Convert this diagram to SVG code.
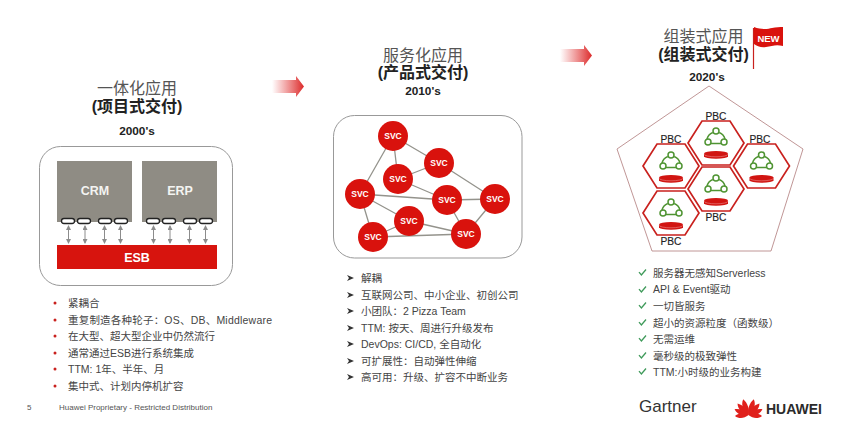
<svg xmlns="http://www.w3.org/2000/svg" xmlns:xlink="http://www.w3.org/1999/xlink" width="844" height="444" viewBox="0 0 844 444">
<style>
text{font-family:"Liberation Sans","Noto Sans CJK SC",sans-serif}
.t1{font-size:16px;fill:#555;text-anchor:middle}
.t2{font-size:16px;font-weight:700;fill:#222;text-anchor:middle}
.yr{font-size:11.8px;font-weight:700;fill:#222;text-anchor:middle}
.li{font-size:10.5px;fill:#444}
.panel{fill:#fff;stroke:#999;stroke-width:1}
.sys{fill:#8f8c84}
.sysT{font-size:12.5px;font-weight:700;fill:#f4f4f2;text-anchor:middle}
.pill{fill:#fff;stroke:#222;stroke-width:1.3}
.link{stroke:#8c8c8c;stroke-width:1;fill:none;marker-start:url(#ah);marker-end:url(#ah)}
.edge{stroke:#94938c;stroke-width:1.3;fill:none}
.svc{fill:#d9120d}
.svcT{font-size:8.5px;font-weight:700;fill:#fff;text-anchor:middle}
.hex{fill:#fff;stroke:#c9211e;stroke-width:1.7}
.pbc{font-size:10.2px;fill:#222;text-anchor:middle;font-weight:400;stroke:#222;stroke-width:.15}
.green{fill:none;stroke:#4f9432;stroke-width:1.5}
.bul{fill:#c9211e}
.chk{fill:none;stroke:#3f9a5a;stroke-width:1.3}
.arw{fill:#333}
</style>
<defs>
<marker id="ah" markerWidth="5" markerHeight="5" refX="4" refY="2.5" orient="auto-start-reverse" markerUnits="userSpaceOnUse"><path d="M0 0L5 2.5L0 5z" fill="#8c8c8c"/></marker>
<linearGradient id="ag" x1="0" x2="1" y1="0" y2="0"><stop offset="0" stop-color="#e2393a" stop-opacity="0"/><stop offset="1" stop-color="#dc2a2a"/></linearGradient>
<g id="pb">
<circle class="green" cx="0" cy="-10" r="3"/><circle class="green" cx="-8" cy="1" r="3"/><circle class="green" cx="8" cy="1" r="3"/>
<path class="green" d="M-3.200 -8.500A9.500 9.500 0 0 0 -9 -2M3.200 -8.500A9.500 9.500 0 0 1 9 -2M-5 2.600H5"/>
<path d="M-12 12.500A12 2.600 0 0 1 12 12.500V15.200A12 2.600 0 0 1 -12 15.200z" fill="#d11512"/>
<path d="M-12 13.200A12 2.600 0 0 0 12 13.200" fill="none" stroke="#f0a0a0" stroke-width=".5"/>
</g>
<polygon id="hx" class="hex" points="-28,0 -14,-22 14,-22 28,0 14,22 -14,22"/>
<path id="pe" d="M0 0C-4.500 -5 -4.500 -11 -1.500 -15C1.500 -11 2.500 -5 0 0z" fill="#e0201c"/>
<path id="ck" class="chk" d="M0 3.200L2.400 6L7 0.500"/>
<path id="ar" class="arw" d="M0 0L7 3L0 6L2 3z"/>
<circle id="bu" class="bul" r="1.500"/>
</defs>
<rect width="844" height="444" fill="#fff"/>

<g id="heading-1">
<text class="t1" x="137" y="94">一体化应用</text>
<text class="t2" x="137" y="112">(项目式交付)</text>
<text class="yr" x="137" y="135">2000's</text>
</g>
<g id="heading-2">
<text class="t1" x="423" y="61">服务化应用</text>
<text class="t2" x="423" y="78">(产品式交付)</text>
<text class="yr" x="423" y="95">2010's</text>
</g>
<g id="heading-3">
<text class="t1" x="703.500" y="42">组装式应用</text>
<text class="t2" x="703.500" y="60">(组装式交付)</text>
<text class="yr" x="707" y="81">2020's</text>
</g>

<g id="arrow-1"><path d="M272 80H296V76L304 86.500L296 97V93H272z" fill="url(#ag)"/></g>
<g id="arrow-2"><path d="M560 49H584V45L592 55.500L584 66V62H560z" fill="url(#ag)"/></g>

<g id="flag">
<path d="M753.500 28V69" stroke="#c9211e" stroke-width="1.200"/>
<path d="M754 27C762 30 768 29 772 28C776 27 780 27 783 27V46C776 44 772 46 766 47C761 48 757 46 754 44z" fill="#d9120d"/>
<text x="768.500" y="41.500" font-size="9.500" font-weight="700" fill="#fff" text-anchor="middle">NEW</text>
</g>

<rect class="panel" x="39.500" y="146.500" width="193" height="139" rx="21"/>
<g id="crm"><rect class="sys" x="57" y="161" width="75" height="61"/><text class="sysT" x="95" y="195">CRM</text></g>
<g id="erp"><rect class="sys" x="142" y="161" width="75" height="61"/><text class="sysT" x="180" y="195">ERP</text></g>
<g id="esb"><rect x="57" y="245" width="160" height="24" fill="#d7140e"/><text x="137" y="262" font-size="12.500" font-weight="700" fill="#fff" text-anchor="middle">ESB</text></g>
<g id="ports">
<rect class="pill" x="61.500" y="218.500" width="13" height="5" rx="2.500"/><rect class="pill" x="77.500" y="218.500" width="13" height="5" rx="2.500"/><rect class="pill" x="98.500" y="218.500" width="13" height="5" rx="2.500"/><rect class="pill" x="114.500" y="218.500" width="13" height="5" rx="2.500"/>
<rect class="pill" x="146.500" y="218.500" width="13" height="5" rx="2.500"/><rect class="pill" x="162.500" y="218.500" width="13" height="5" rx="2.500"/><rect class="pill" x="183.500" y="218.500" width="13" height="5" rx="2.500"/><rect class="pill" x="199.500" y="218.500" width="13" height="5" rx="2.500"/>
</g>
<g id="esb-links">
<path class="link" d="M68.500 226V243"/><path class="link" d="M85 226V243"/><path class="link" d="M104.500 226V243"/><path class="link" d="M120.500 226V243"/>
<path class="link" d="M153.500 226V243"/><path class="link" d="M170 226V243"/><path class="link" d="M189.500 226V243"/><path class="link" d="M205.500 226V243"/>
</g>

<rect class="panel" x="333.500" y="115.500" width="188.500" height="142.500" rx="21"/>
<g id="connectors">
<path class="edge" d="M393 136L360 194M393 136L398 179M393 136L439 163M439 163L398 179M439 163L495 199M398 179L447 200M360 194L447 200M447 200L495 199M447 200L466 234M495 199L466 234M360 194L409 221M360 194L373 237M409 221L373 237M409 221L466 234M373 237L466 234"/>
</g>
<g id="svc-1"><circle class="svc" cx="393" cy="136" r="15"/><text class="svcT" x="393" y="139">SVC</text></g>
<g id="svc-2"><circle class="svc" cx="439" cy="163" r="15"/><text class="svcT" x="439" y="166">SVC</text></g>
<g id="svc-3"><circle class="svc" cx="398" cy="179" r="15"/><text class="svcT" x="398" y="182">SVC</text></g>
<g id="svc-4"><circle class="svc" cx="360" cy="194" r="15"/><text class="svcT" x="360" y="197">SVC</text></g>
<g id="svc-5"><circle class="svc" cx="447" cy="200" r="15"/><text class="svcT" x="447" y="203">SVC</text></g>
<g id="svc-6"><circle class="svc" cx="495" cy="199" r="15"/><text class="svcT" x="495" y="202">SVC</text></g>
<g id="svc-7"><circle class="svc" cx="409" cy="221" r="15"/><text class="svcT" x="409" y="224">SVC</text></g>
<g id="svc-8"><circle class="svc" cx="373" cy="237" r="15"/><text class="svcT" x="373" y="240">SVC</text></g>
<g id="svc-9"><circle class="svc" cx="466" cy="234" r="15"/><text class="svcT" x="466" y="237">SVC</text></g>

<polygon id="pentagon" points="709,86 803,149 771,251 652,251 617,149" fill="#fff" stroke="#b98a8a" stroke-width=".9"/>
<g id="pbc-top"><use href="#hx" x="716" y="143"/><use href="#pb" x="716" y="141"/><text class="pbc" x="716" y="119.500">PBC</text></g>
<g id="pbc-left"><use href="#hx" x="671" y="166"/><use href="#pb" x="671" y="165"/><text class="pbc" x="671" y="143">PBC</text></g>
<g id="pbc-right"><use href="#hx" x="761.500" y="166"/><use href="#pb" x="761.500" y="165"/><text class="pbc" x="760" y="143">PBC</text></g>
<g id="pbc-mid"><use href="#hx" x="716" y="189"/><use href="#pb" x="716" y="188"/><text class="pbc" x="716" y="221">PBC</text></g>
<g id="pbc-bottom"><use href="#hx" x="671" y="213"/><use href="#pb" x="671" y="212"/><text class="pbc" x="671" y="245">PBC</text></g>

<g id="list-1">
<use href="#bu" x="55" y="303"/><text class="li" x="68" y="307">紧耦合</text>
<use href="#bu" x="55" y="320"/><text class="li" x="68" y="323.500" textLength="204">重复制造各种轮子：OS、DB、Middleware</text>
<use href="#bu" x="55" y="336"/><text class="li" x="68" y="340">在大型、超大型企业中仍然流行</text>
<use href="#bu" x="55" y="353"/><text class="li" x="68" y="356.500">通常通过ESB进行系统集成</text>
<use href="#bu" x="55" y="369"/><text class="li" x="68" y="373">TTM: 1年、半年、月</text>
<use href="#bu" x="55" y="386"/><text class="li" x="68" y="389.500">集中式、计划内停机扩容</text>
</g>
<g id="list-2">
<use href="#ar" x="347" y="275"/><text class="li" x="361" y="282">解耦</text>
<use href="#ar" x="347" y="292"/><text class="li" x="361" y="298.500">互联网公司、中小企业、初创公司</text>
<use href="#ar" x="347" y="308"/><text class="li" x="361" y="315">小团队：2 Pizza Team</text>
<use href="#ar" x="347" y="325"/><text class="li" x="361" y="331.500">TTM: 按天、周进行升级发布</text>
<use href="#ar" x="347" y="341"/><text class="li" x="361" y="348">DevOps: CI/CD, 全自动化</text>
<use href="#ar" x="347" y="358"/><text class="li" x="361" y="364.500">可扩展性：自动弹性伸缩</text>
<use href="#ar" x="347" y="374"/><text class="li" x="361" y="381">高可用：升级、扩容不中断业务</text>
</g>
<g id="list-3">
<use href="#ck" x="639" y="269"/><text class="li" x="653" y="276.500">服务器无感知Serverless</text>
<use href="#ck" x="639" y="286"/><text class="li" x="653" y="293">API &amp; Event驱动</text>
<use href="#ck" x="639" y="302"/><text class="li" x="653" y="310">一切皆服务</text>
<use href="#ck" x="639" y="319"/><text class="li" x="653" y="326.500">超小的资源粒度（函数级）</text>
<use href="#ck" x="639" y="335"/><text class="li" x="653" y="343">无需运维</text>
<use href="#ck" x="639" y="352"/><text class="li" x="653" y="359.500">毫秒级的极致弹性</text>
<use href="#ck" x="639" y="368"/><text class="li" x="653" y="376">TTM:小时级的业务构建</text>
</g>

<g id="footer">
<text x="27" y="410" font-size="8" fill="#555">5</text>
<text x="59" y="410" font-size="8" fill="#555">Huawei Proprietary - Restricted Distribution</text>
</g>
<g id="gartner"><text x="639" y="412" font-size="17" fill="#333">Gartner</text></g>
<g id="huawei">
<g transform="translate(748.500 415)">
<use href="#pe" transform="rotate(-88) scale(.9)"/><use href="#pe" transform="rotate(-62) scale(1)"/><use href="#pe" transform="rotate(-38) scale(1.05)"/><use href="#pe" transform="rotate(-13) scale(1.1)"/>
<use href="#pe" transform="scale(-1 1) rotate(-88) scale(.9)"/><use href="#pe" transform="scale(-1 1) rotate(-62) scale(1)"/><use href="#pe" transform="scale(-1 1) rotate(-38) scale(1.05)"/><use href="#pe" transform="scale(-1 1) rotate(-13) scale(1.1)"/>
</g>
<text x="766" y="414" font-size="14" font-weight="700" fill="#2b2b2b">HUAWEI</text>
</g>
</svg>
